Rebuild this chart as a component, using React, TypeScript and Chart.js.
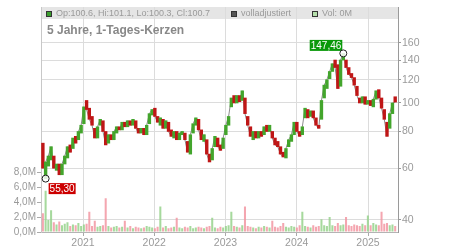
import React, { useEffect, useRef } from "react";
import { Chart, registerables } from "chart.js";
Chart.register(...registerables);

// ---- data (2-week candles, June 2020 – May 2025) ----
const FIRST_PERIOD = 2020.437; // decimal year of the first candle
const PERIOD_YEARS = 14 / 365.25;
const yearTicks = [2021, 2022, 2023, 2024, 2025];
const priceTicks = [40, 60, 80, 100, 120, 140, 160];
const volumeTicks = [0, 2e6, 4e6, 6e6, 8e6];
const title = "5 Jahre, 1-Tages-Kerzen";
const lastOHLC = "Op:100.6, Hi:101.1, Lo:100.3, Cl:100.7";
const legendAdjusted = "volladjustiert";
const legendVolume = "Vol: 0M";

const opens = [
  73, 55.3, 61, 64, 66, 59, 62, 57, 62, 65,
  72, 70, 77, 75, 79, 85, 102, 96, 90, 82,
  76, 84, 87, 80, 73, 78, 75, 79, 83, 81,
  86, 83, 87, 84, 87, 82, 79, 82, 78, 85,
  91, 96, 90, 84, 88, 82, 86, 81, 76, 80,
  75, 78, 79, 74, 67, 79, 84, 88, 81, 74,
  75, 67, 64, 71, 76, 72, 70, 78, 84, 97,
  106, 100, 106, 102, 104, 90, 83, 75, 80, 76,
  80, 78, 84, 80, 80, 76, 74, 71, 68, 65,
  71, 74, 78, 86, 80, 78, 89, 95, 90, 94,
  89, 84, 88, 104, 112, 121, 128, 140, 135, 114,
  140, 140, 132, 126, 122, 114, 104, 100, 105, 99,
  102, 97, 103, 111, 104, 95, 86, 82, 92, 105,
];
const closes = [
  60, 63, 66, 71, 60, 62, 57, 62, 66, 71,
  68, 76, 73, 80, 84, 97, 95, 88, 84, 76,
  83, 88, 80, 72, 78, 75, 80, 83, 81, 86,
  83, 87, 84, 88, 82, 79, 82, 78, 84, 92,
  95, 90, 86, 89, 82, 87, 80, 77, 80, 75,
  79, 80, 75, 68, 78, 85, 89, 81, 75, 78,
  67, 63, 70, 77, 71, 69, 76, 84, 90, 104,
  100, 106, 101, 110, 92, 84, 77, 80, 76, 80,
  77, 83, 80, 84, 76, 72, 71, 67, 65.5, 70,
  75, 78, 86, 80, 77, 83, 96, 89, 94, 89,
  84, 82, 102, 115, 120, 128, 136, 132, 112, 140,
  147.46, 132, 125, 122, 115, 106, 100, 105, 99, 102,
  98, 103, 110, 104, 96, 88, 77, 92, 100, 100.7,
];
// volume in millions
const volumesM = [
  2.5, 5.5, 1.6, 2.9, 1.3, 1.0, 1.4, 0.9, 1.1, 1.3,
  0.8, 1.0, 0.9, 1.2, 0.8, 1.0, 1.1, 2.7, 0.8, 1.5,
  0.7, 0.8, 0.9, 4.5, 0.8, 0.6, 0.7, 0.8, 0.6, 0.7,
  1.5, 0.6, 0.8, 0.5, 0.7, 0.6, 0.5, 0.6, 0.8, 0.7,
  0.6, 0.5, 0.7, 3.4, 0.6, 0.8, 0.5, 0.6, 0.7, 1.9,
  0.6, 0.5, 0.7, 0.6, 0.8, 0.5, 0.6, 0.7, 0.6, 0.5,
  0.7, 0.8, 1.9, 0.6, 0.5, 0.7, 0.6, 0.8, 0.9, 2.7,
  0.8, 0.7, 0.6, 0.9, 3.4, 0.8, 0.7, 0.6, 0.5, 0.7,
  0.6, 0.8, 0.7, 0.6, 1.5, 0.7, 0.6, 0.8, 1.2, 0.7,
  0.6, 0.8, 0.7, 0.6, 0.9, 2.7, 0.8, 0.7, 0.6, 0.9,
  0.7, 0.8, 1.7, 0.9, 0.8, 2.0, 0.9, 0.8, 1.2, 0.9,
  1.0, 2.0, 0.9, 0.8, 1.0, 0.9, 0.8, 1.1, 0.9, 2.2,
  0.9, 1.2, 1.0, 0.9, 2.7, 1.1, 1.2, 0.9, 1.0, 0.8,
];

const FONT = '"Liberation Sans", Arial, sans-serif';
const UP = "#43a52c";
const DOWN = "#bf1616";
const VOL_UP = "rgba(150,210,140,0.85)";
const VOL_DOWN = "rgba(242,150,162,0.85)";

const fmtDe = (v: number) => v.toFixed(2).replace(".", ",");

export default function App() {
  const ref = useRef<HTMLCanvasElement>(null);

  useEffect(() => {
    const canvas = ref.current!;
    const xs = opens.map((_, i) => FIRST_PERIOD + i * PERIOD_YEARS);
    const up = opens.map((o, i) => closes[i] >= o);
    const candleData = xs.map((x, i) => ({ x, y: [opens[i], closes[i]] }));
    const lineData = xs.map((x, i) => ({ x, y: closes[i] }));
    const volData = xs.map((x, i) => ({ x, y: volumesM[i] * 1e6 }));

    // extremes
    let maxI = 0, maxV = -Infinity, minI = 0, minV = Infinity;
    opens.forEach((o, i) => {
      const hi = Math.max(o, closes[i]);
      const lo = Math.min(o, closes[i]);
      if (hi > maxV) { maxV = hi; maxI = i; }
      if (lo < minV) { minV = lo; minI = i; }
    });

    const decor = {
      id: "decor",
      beforeDraw(chart: any) {
        const { ctx, chartArea: a } = chart;
        ctx.save();
        ctx.fillStyle = "#e5e5e5";
        ctx.fillRect(a.left, a.top, a.right - a.left, 12);
        ctx.restore();
      },
      afterDraw(chart: any) {
        const { ctx, chartArea: a, scales } = chart;
        ctx.save();
        // legend
        const midY = a.top + 6.5;
        const items = [
          { x: a.left + 5, color: "#3a9e2c", text: lastOHLC },
          { x: a.left + 190, color: "#555555", text: legendAdjusted },
          { x: a.left + 271, color: "#b5dfab", text: legendVolume },
        ];
        ctx.font = `9px ${FONT}`;
        ctx.textBaseline = "middle";
        for (const it of items) {
          ctx.fillStyle = it.color;
          ctx.fillRect(it.x, Math.round(midY - 3), 6, 6);
          ctx.strokeStyle = "#333";
          ctx.lineWidth = 1;
          ctx.strokeRect(it.x + 0.5, Math.round(midY - 3) + 0.5, 5, 5);
          ctx.fillStyle = "#9a9a9a";
          ctx.fillText(it.text, it.x + 10, midY + 0.5);
        }
        // title
        ctx.font = `bold 12px ${FONT}`;
        ctx.fillStyle = "#888";
        ctx.textBaseline = "alphabetic";
        ctx.fillText(title, a.left + 6, a.top + 27);

        // extremes annotations
        const drawMarker = (px: number, py: number) => {
          ctx.beginPath();
          ctx.arc(px, py, 3.5, 0, Math.PI * 2);
          ctx.fillStyle = "rgba(255,255,255,0.85)";
          ctx.fill();
          ctx.strokeStyle = "#222";
          ctx.lineWidth = 1;
          ctx.stroke();
        };
        ctx.font = `10px ${FONT}`;
        ctx.textBaseline = "middle";
        // max
        {
          const px = scales.x.getPixelForValue(xs[maxI]);
          const py = scales.yp.getPixelForValue(maxV);
          const txt = fmtDe(maxV);
          const w = ctx.measureText(txt).width + 2;
          const h = 11;
          const right = px - 1;
          const bottom = py - 2.5;
          ctx.fillStyle = "#0a990a";
          ctx.fillRect(right - w, bottom - h, w, h);
          ctx.fillStyle = "#fff";
          ctx.fillText(txt, right - w + 1, bottom - h / 2 + 0.5);
          drawMarker(px, py);
        }
        // min
        {
          const px = scales.x.getPixelForValue(xs[minI]);
          const py = scales.yp.getPixelForValue(minV);
          const txt = fmtDe(minV);
          const w = ctx.measureText(txt).width + 2;
          const h = 11;
          const left = px + 3;
          const top = py + 4.5;
          ctx.fillStyle = "#cc0000";
          ctx.fillRect(left, top, w, h);
          ctx.fillStyle = "#fff";
          ctx.fillText(txt, left + 1, top + h / 2 + 0.5);
          drawMarker(px, py);
        }
        ctx.restore();
      },
    };

    const tickFont = { family: FONT, size: 10.5, lineHeight: 1 };

    const chart = new Chart(canvas, {
      type: "bar",
      data: {
        datasets: [
          {
            type: "bar",
            data: candleData as any,
            yAxisID: "yp",
            backgroundColor: up.map((u) => (u ? UP : DOWN)),
            borderWidth: 0,
            barPercentage: 1,
            categoryPercentage: 1,
            grouped: false,
            order: 0,
          } as any,
          {
            type: "bar",
            data: volData as any,
            yAxisID: "yv",
            backgroundColor: up.map((u) => (u ? VOL_UP : VOL_DOWN)),
            borderWidth: 0,
            barPercentage: 0.75,
            categoryPercentage: 1,
            grouped: false,
            order: 2,
          } as any,
          {
            type: "line",
            data: lineData as any,
            yAxisID: "yp",
            borderColor: "#8c8c8c",
            borderWidth: 1,
            pointRadius: 0,
            order: 3,
          } as any,
        ],
      },
      options: {
        animation: false,
        responsive: false,
        devicePixelRatio: 1,
        layout: { padding: { top: 7, left: 0, right: 0, bottom: 0 } },
        plugins: { legend: { display: false }, tooltip: { enabled: false } },
        scales: {
          x: {
            type: "linear",
            min: 2020.4105,
            max: 2025.421,
            offset: false,
            afterBuildTicks: (s: any) => {
              s.ticks = yearTicks.map((v) => ({ value: v }));
            },
            afterFit: (s: any) => {
              s.height = 18;
            },
            ticks: {
              callback: (v: any) => String(v),
              color: "#9a9a9a",
              font: tickFont,
              padding: 2,
              maxRotation: 0,
              autoSkip: false,
            },
            grid: { color: "#dcdcdc", tickColor: "#aaa", tickLength: 4, offset: false },
            border: { color: "#b4b4b4" },
          },
          yv: {
            type: "linear",
            position: "left",
            min: 0,
            max: 30e6,
            afterBuildTicks: (s: any) => {
              s.ticks = volumeTicks.map((v) => ({ value: v }));
            },
            afterFit: (s: any) => {
              s.width = 41;
            },
            ticks: {
              callback: (v: any) => (Number(v) / 1e6).toFixed(1).replace(".", ",") + "M",
              color: "#9a9a9a",
              font: { family: FONT, size: 10, lineHeight: 1 },
              padding: 1,
            },
            grid: { drawOnChartArea: false, tickColor: "#aaa", tickLength: 4 },
            border: { color: "#c8c8c8" },
          },
          yp: {
            type: "logarithmic",
            position: "right",
            min: 36.4,
            max: 212.1,
            afterBuildTicks: (s: any) => {
              s.ticks = priceTicks.map((v) => ({ value: v }));
            },
            afterFit: (s: any) => {
              s.width = 52;
            },
            ticks: {
              callback: (v: any) => String(v),
              color: "#9a9a9a",
              font: tickFont,
              padding: 1,
            },
            grid: { color: "#dcdcdc", tickColor: "#999", tickLength: 3 },
            border: { color: "#9a9a9a" },
          },
        },
      } as any,
      plugins: [decor],
    });
    return () => chart.destroy();
  }, []);

  return (
    <div style={{ position: "absolute", left: 0, top: 0, width: 450, height: 250, background: "#fff" }}>
      <canvas ref={ref} width={450} height={250} style={{ display: "block", width: 450, height: 250 }} />
    </div>
  );
}
